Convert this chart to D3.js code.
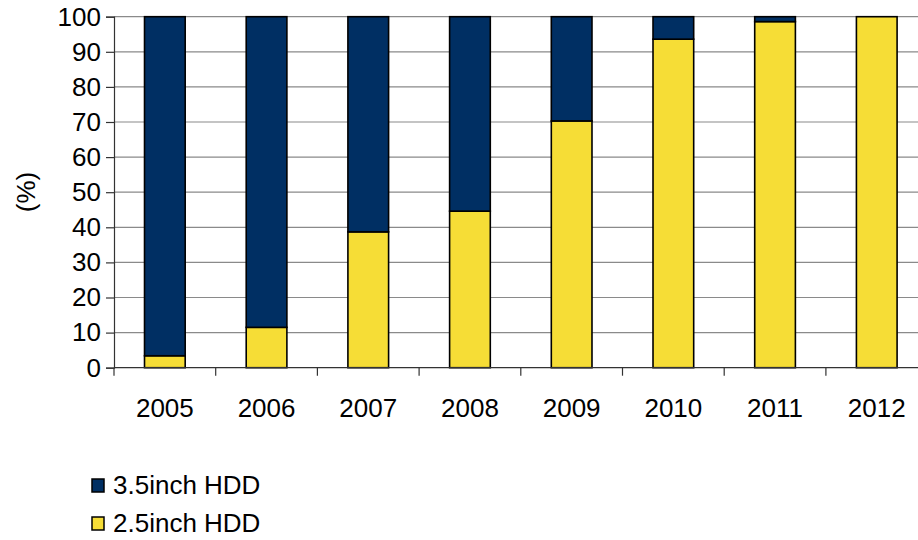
<!DOCTYPE html>
<html>
<head>
<meta charset="utf-8">
<script src="https://cdn.jsdelivr.net/npm/d3@7"></script>
<style>
  html, body { margin: 0; padding: 0; background: #fff; }
  svg { display: block; font-family: "Liberation Sans", Arial, sans-serif; }
</style>
</head>
<body>
<svg id="chart" width="918" height="540"></svg>
<script>
// Share of HDD shipments by form factor (%)
const years = ["2005", "2006", "2007", "2008", "2009", "2010", "2011", "2012"];
const hdd25 = [3.4, 11.5, 38.7, 44.6, 70.3, 93.6, 98.6, 100];
const hdd35 = [96.6, 88.5, 61.3, 55.4, 29.7, 6.4, 1.4, 0];
const yTicks = [0, 10, 20, 30, 40, 50, 60, 70, 80, 90, 100];
const seriesNames = ["3.5inch HDD", "2.5inch HDD"];
const seriesColors = ["#002f63", "#f6dd36"];

const svg = d3.select("#chart");
const plotLeft = 114, plotRight = 927.6, plotTop = 16.7, plotBottom = 367.7;
const fontSize = 26;

const x = d3.scaleBand().domain(years).range([plotLeft, plotRight])
  .paddingInner(0.6).paddingOuter(0.3);
const y = d3.scaleLinear().domain([0, 100]).range([plotBottom, plotTop]);

// horizontal gridlines
svg.append("g").selectAll("line").data(yTicks.filter(d => d > 0)).join("line")
  .attr("x1", plotLeft).attr("x2", 918)
  .attr("y1", d => y(d)).attr("y2", d => y(d))
  .attr("stroke", "#8a8a8a").attr("stroke-width", 1.2);

// stacked bars
const rows = years.map((yr, i) => ({ year: yr, hdd25: hdd25[i], hdd35: hdd35[i] }));
const stack = d3.stack().keys(["hdd25", "hdd35"])(rows);
const colorOf = { hdd25: seriesColors[1], hdd35: seriesColors[0] };

svg.append("g").selectAll("g").data(stack).join("g")
  .attr("fill", d => colorOf[d.key])
  .selectAll("rect").data(d => d.filter(p => p[1] - p[0] > 0)).join("rect")
  .attr("x", d => x(d.data.year))
  .attr("width", x.bandwidth())
  .attr("y", d => y(d[1]))
  .attr("height", d => y(d[0]) - y(d[1]))
  .attr("stroke", "#000").attr("stroke-width", 1.6);

// y axis
const yAxis = d3.axisLeft(y).tickValues(yTicks).tickSize(8).tickPadding(5);
const gy = svg.append("g").attr("transform", `translate(${plotLeft},0)`).call(yAxis);
gy.select(".domain").attr("stroke", "#333").attr("stroke-width", 1.2);
gy.selectAll(".tick line").attr("stroke", "#333").attr("stroke-width", 1.2);
gy.selectAll(".tick text").attr("font-size", fontSize).attr("fill", "#000")
  .attr("font-family", "Liberation Sans, Arial, sans-serif");

// x axis: baseline, category labels, tick marks between categories
const gx = svg.append("g");
gx.append("line").attr("x1", plotLeft).attr("x2", 918)
  .attr("y1", plotBottom).attr("y2", plotBottom).attr("stroke", "#333").attr("stroke-width", 1.2);
const step = x.step();
const bounds = years.map(d => x(d) - step * 0.3);
gx.selectAll("line.tk").data(bounds).join("line").attr("class", "tk")
  .attr("x1", d => d).attr("x2", d => d)
  .attr("y1", plotBottom).attr("y2", plotBottom + 8)
  .attr("stroke", "#333").attr("stroke-width", 1.2);
gx.selectAll("text").data(years).join("text")
  .attr("x", d => x(d) + x.bandwidth() / 2)
  .attr("y", 417)
  .attr("text-anchor", "middle")
  .attr("font-size", fontSize).attr("fill", "#000")
  .text(d => d);

// y axis title
svg.append("text")
  .attr("transform", "translate(35,192) rotate(-90)")
  .attr("text-anchor", "middle")
  .attr("font-size", fontSize).attr("fill", "#000")
  .text("(%)");

// legend
const legend = svg.append("g").selectAll("g").data(seriesNames).join("g")
  .attr("transform", (d, i) => `translate(92,${479 + i * 38})`);
legend.append("rect").attr("width", 12).attr("height", 13)
  .attr("fill", (d, i) => seriesColors[i]).attr("stroke", "#000").attr("stroke-width", 1.5);
legend.append("text").attr("x", 21).attr("y", 15)
  .attr("font-size", fontSize).attr("fill", "#000").text(d => d);
</script>
</body>
</html>
